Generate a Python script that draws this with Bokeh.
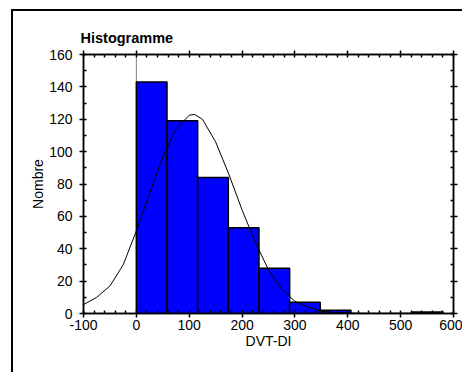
from bokeh.plotting import figure
from bokeh.models import LinearAxis, SingleIntervalTicker, Range1d, Span, CustomJSTickFormatter
from bokeh.embed import file_html
from bokeh.resources import INLINE

# histogram data
bin_left = [0, 58, 116, 174, 232, 290, 348, 406, 464, 522]
bin_right = [58, 116, 174, 232, 290, 348, 406, 464, 522, 580]
counts = [143, 119, 84, 53, 28, 7, 2, 0, 0, 1]

# fitted curve
curve_x = [-100, -75, -50, -25, 0, 25, 50, 75, 100, 110, 125, 150, 175, 200, 225,
           250, 275, 300, 325, 350, 375, 400, 425, 450, 500, 550, 600]
curve_y = [5.5, 10, 17, 30, 51, 74, 97, 114, 122.5, 123, 120, 106, 86, 64, 44,
           27, 15, 7.5, 4, 1.5, 0.6, 0.2, 0, 0, 0, 0, 0]

x_ticks = [-100, 0, 100, 200, 300, 400, 500, 600]
x_tick_labels = ["-100", "0", "100", "200", "300", "400", "500", "600"]

title_text = "Histogramme"
x_label = "DVT-DI"
y_label = "Nombre"

FONT = "Liberation Sans"

p = figure(width=462, height=372,
           x_range=Range1d(-100, 600), y_range=Range1d(0, 160),
           output_backend="svg", toolbar_location=None,
           min_border_left=83, min_border_right=9,
           min_border_top=54, min_border_bottom=59,
           x_axis_location=None, y_axis_location=None)
# outer box (left and top edges) painted behind a transparent canvas border
p.styles = {"background": "linear-gradient(#000, #000) 11px 9px / 2px 100% no-repeat, "
                          "linear-gradient(#000, #000) 11px 9px / 100% 2px no-repeat, #fff"}
p.xgrid.visible = False
p.ygrid.visible = False
p.outline_line_color = "black"
p.outline_line_width = 1.5
p.background_fill_color = "white"
p.border_fill_color = None

p.title.text = title_text
p.title.text_font = FONT
p.title.text_font_size = "14.5px"
p.title.text_font_style = "bold"
p.title.text_color = "black"
p.title.align = "left"
p.title.offset = -3
p.title.standoff = 10

blank = CustomJSTickFormatter(code="return ''")


def style_axis(ax, interval, minor, labels=True):
    ax.ticker = SingleIntervalTicker(interval=interval, num_minor_ticks=minor)
    ax.axis_line_color = "black"
    ax.axis_line_width = 1.5
    ax.major_tick_line_color = "black"
    ax.major_tick_line_width = 1.5
    ax.minor_tick_line_color = "black"
    ax.minor_tick_line_width = 1.5
    ax.major_tick_out = 4
    ax.major_tick_in = 0
    ax.minor_tick_out = 0
    ax.minor_tick_in = 3
    ax.major_label_text_font = FONT
    ax.major_label_text_font_size = "14px"
    ax.major_label_text_color = "black"
    ax.axis_label_text_font = FONT
    ax.axis_label_text_font_size = "14px"
    ax.axis_label_text_font_style = "normal"
    ax.axis_label_text_color = "black"
    if not labels:
        ax.formatter = blank
        ax.major_label_standoff = 0


xb = LinearAxis(axis_label=x_label)
style_axis(xb, 100, 5)
xb.major_label_overrides = {t: s for t, s in zip(x_ticks, x_tick_labels)}
xb.major_label_standoff = 2
xb.axis_label_standoff = 0
p.add_layout(xb, "below")

yl = LinearAxis(axis_label=y_label)
style_axis(yl, 20, 2)
yl.major_label_standoff = 7
yl.axis_label_standoff = 0
p.add_layout(yl, "left")

xt = LinearAxis()
style_axis(xt, 100, 5, labels=False)
p.add_layout(xt, "above")

yr = LinearAxis()
style_axis(yr, 20, 2, labels=False)
p.add_layout(yr, "right")

p.add_layout(Span(location=0, dimension="height", line_color="black",
                  line_width=1, line_dash="1 1", level="underlay"))

p.quad(left=bin_left, right=bin_right, bottom=0, top=counts,
       fill_color="#0000FF", line_color="black", line_width=1.5)

p.line(curve_x, curve_y, line_color="black", line_width=1)

open("out.html", "w").write(file_html(p, INLINE))
